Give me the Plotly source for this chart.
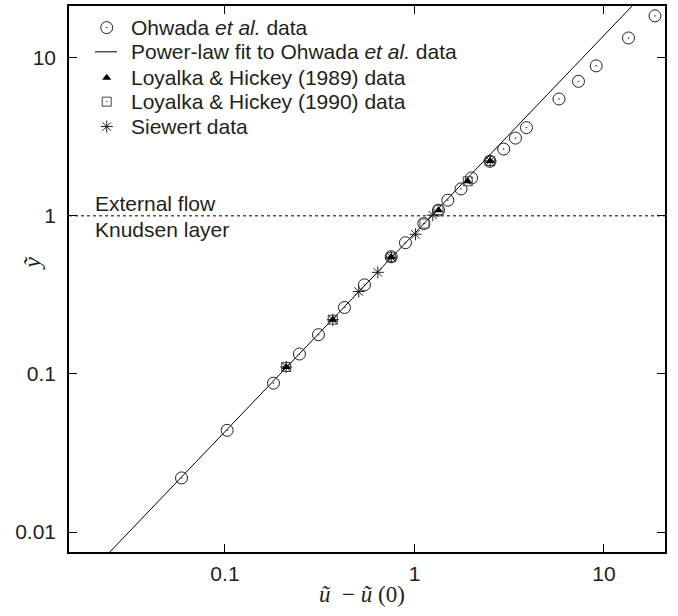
import numpy as np
import plotly.graph_objects as go

# ---------------- data ----------------
ohwada_x = [0.0590, 0.1027, 0.1803, 0.2472, 0.3114, 0.4272, 0.5446, 0.7535, 0.8965,
            1.120, 1.339, 1.499, 1.760, 2.000, 2.502, 2.957, 3.412, 3.900,
            5.788, 7.335, 9.094, 13.47, 18.58]
ohwada_y = [0.0220, 0.0440, 0.0874, 0.1337, 0.1771, 0.2633, 0.3659, 0.5515, 0.676,
            0.894, 1.086, 1.256, 1.480, 1.735, 2.212, 2.644, 3.101, 3.611,
            5.484, 7.090, 8.879, 13.33, 18.40]

lh1989_x = [0.2104, 0.3706, 0.7535, 1.339, 1.911, 2.509]
lh1989_y = [0.1107, 0.2203, 0.5477, 1.086, 1.654, 2.222]

lh1990_x = [0.2104, 0.3706, 0.7535, 1.129, 1.339, 1.911, 2.509]
lh1990_y = [0.1107, 0.2203, 0.5477, 0.894, 1.086, 1.654, 2.222]

siewert_x = [0.2104, 0.3706, 0.5082, 0.6403, 0.7535, 1.012, 1.249, 2.509]
siewert_y = [0.1107, 0.2203, 0.3320, 0.4392, 0.5477, 0.7645, 1.010, 2.222]

# power-law fit  y = A * x**B
FIT_A = 0.773
FIT_B = 1.253

BOUNDARY_Y = 1.0  # external flow / Knudsen layer boundary

tick_vals = [0.01, 0.1, 1, 10]
tick_text = ["0.01", "0.1", "1", "10"]

legend_labels = ["Ohwada <i>et al.</i> data",
                 "Power-law fit to Ohwada <i>et al.</i> data",
                 "Loyalka &amp; Hickey (1989) data",
                 "Loyalka &amp; Hickey (1990) data",
                 "Siewert data"]

# ---------------- layout constants ----------------
X_RANGE_LOG = [-1.823, 1.322]
Y_RANGE_LOG = [-2.126, 1.327]
INK = "#231f20"
SANS = "Liberation Sans, Arial, sans-serif"
SERIF = "Liberation Serif, Times New Roman, serif"
FS = 21

# marker styles
st_ohwada = dict(symbol="circle-open-dot", size=12, color=INK, line=dict(width=1, color=INK))
st_1989 = dict(symbol="triangle-up", size=8, color="#000000", line=dict(width=0))
st_1990 = dict(symbol="square-open-dot", size=9, color="#444444", line=dict(width=1, color="#444444"))
st_siew = dict(symbol="asterisk-open", size=10, color=INK, line=dict(width=1, color=INK))
st_line = dict(color="#000000", width=1)

fig = go.Figure()

x_fit = np.logspace(X_RANGE_LOG[0], X_RANGE_LOG[1], 50)
y_fit = FIT_A * x_fit ** FIT_B
fig.add_trace(go.Scatter(x=x_fit, y=y_fit, mode="lines", line=st_line, showlegend=False,
                         hoverinfo="skip"))

# boundary dotted line
fig.add_trace(go.Scatter(x=[10 ** X_RANGE_LOG[0], 10 ** X_RANGE_LOG[1]],
                         y=[BOUNDARY_Y, BOUNDARY_Y], mode="lines",
                         line=dict(color="#000000", width=1, dash="dot"),
                         showlegend=False, hoverinfo="skip"))

fig.add_trace(go.Scatter(x=ohwada_x, y=ohwada_y, mode="markers", marker=st_ohwada, showlegend=False))
fig.add_trace(go.Scatter(x=lh1990_x, y=lh1990_y, mode="markers", marker=st_1990, showlegend=False))
fig.add_trace(go.Scatter(x=siewert_x, y=siewert_y, mode="markers", marker=st_siew, showlegend=False))
fig.add_trace(go.Scatter(x=lh1989_x, y=lh1989_y, mode="markers", marker=st_1989, showlegend=False))

# ---------------- manual legend on overlay axes (paper-like 0..1) ----------------
LEG_SYM_X = 0.0633
LEG_LINE_X = [0.0436, 0.0805]
LEG_TEXT_X = 0.1007
LEG_ROWS = [0.9604, 0.9161, 0.8686, 0.8248, 0.7792]

leg_styles = [st_ohwada, None, st_1989, st_1990, st_siew]
for row, sty in zip(LEG_ROWS, leg_styles):
    if sty is None:
        fig.add_trace(go.Scatter(x=LEG_LINE_X, y=[row, row], mode="lines", line=st_line,
                                 xaxis="x2", yaxis="y2", showlegend=False, hoverinfo="skip"))
    else:
        fig.add_trace(go.Scatter(x=[LEG_SYM_X], y=[row], mode="markers", marker=sty,
                                 xaxis="x2", yaxis="y2", showlegend=False, hoverinfo="skip"))

annotations = []
for row, lab in zip(LEG_ROWS, legend_labels):
    annotations.append(dict(x=LEG_TEXT_X, y=row, xref="paper", yref="paper", text=lab,
                            showarrow=False, xanchor="left", yanchor="middle",
                            font=dict(family=SANS, size=FS, color=INK)))

# region labels
annotations.append(dict(x=0.04, xref="paper", y=np.log10(BOUNDARY_Y), yref="y", yshift=12,
                        text="External flow", showarrow=False, xanchor="left", yanchor="middle",
                        font=dict(family=SANS, size=FS, color=INK)))
annotations.append(dict(x=0.04, xref="paper", y=np.log10(BOUNDARY_Y), yref="y", yshift=-14,
                        text="Knudsen layer", showarrow=False, xanchor="left", yanchor="middle",
                        font=dict(family=SANS, size=FS, color=INK)))

# axis titles
annotations.append(dict(x=0.492, y=-0.077, xref="paper", yref="paper",
                        text="<i>ũ</i>\u00a0\u00a0\u2212 <i>ũ</i>\u00a0(0)", showarrow=False,
                        xanchor="center", yanchor="middle",
                        font=dict(family=SERIF, size=23, color=INK)))
annotations.append(dict(x=-0.062, y=0.53, xref="paper", yref="paper",
                        text="<i>ỹ</i>", showarrow=False, textangle=-90,
                        xanchor="center", yanchor="middle",
                        font=dict(family=SERIF, size=24, color=INK)))

axis_common = dict(type="log", showgrid=False, zeroline=False, showline=True, linecolor="#000000",
                   linewidth=1.5, mirror="ticks", ticks="inside", ticklen=8, tickwidth=1.2,
                   tickcolor="#000000", tickvals=tick_vals, ticktext=tick_text,
                   tickfont=dict(family=SANS, size=FS, color=INK))

fig.update_layout(
    width=678, height=616,
    margin=dict(l=69, r=13, t=4, b=64),
    paper_bgcolor="white", plot_bgcolor="white",
    showlegend=False,
    xaxis=dict(range=X_RANGE_LOG, ticklabelstandoff=2, **axis_common),
    yaxis=dict(range=Y_RANGE_LOG, ticklabelstandoff=7, **axis_common),
    xaxis2=dict(overlaying="x", range=[0, 1], visible=False, fixedrange=True),
    yaxis2=dict(overlaying="y", range=[0, 1], visible=False, fixedrange=True),
    annotations=annotations,
)

fig.write_html("out.html", config={"displayModeBar": False},
               post_script="document.body.style.margin='0px';document.body.style.overflow='hidden';")
